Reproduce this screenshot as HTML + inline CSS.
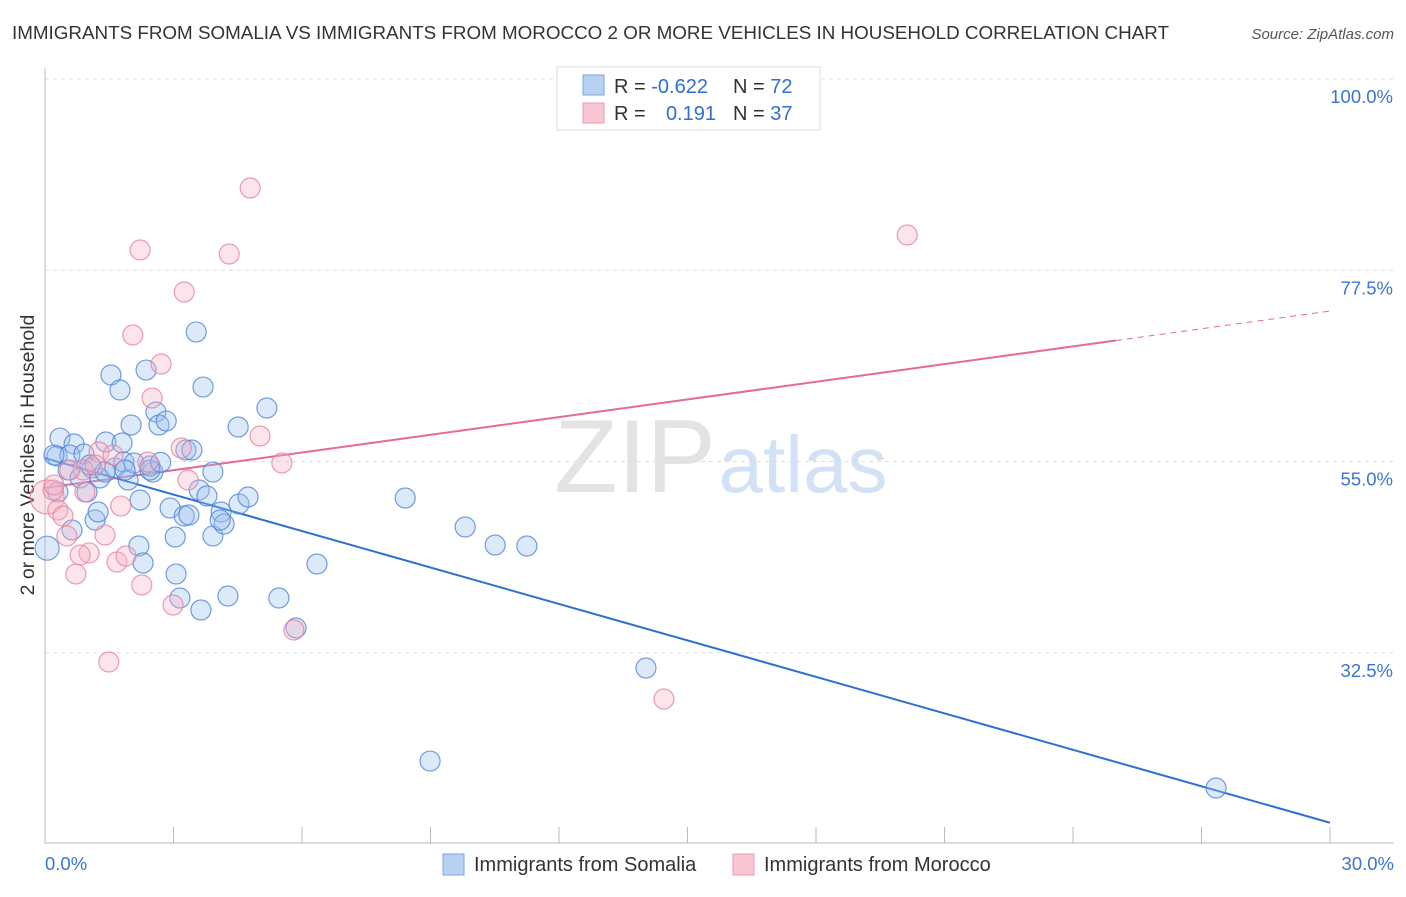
<!DOCTYPE html>
<html><head><meta charset="utf-8"><style>
body{margin:0;background:#fff;font-family:"Liberation Sans",sans-serif;}
svg text{font-family:"Liberation Sans",sans-serif;}
</style></head><body>
<svg id="chart" width="1406" height="892" viewBox="0 0 1406 892">
<text x="12" y="39" font-size="18" fill="#333" textLength="1157" lengthAdjust="spacingAndGlyphs">IMMIGRANTS FROM SOMALIA VS IMMIGRANTS FROM MOROCCO 2 OR MORE VEHICLES IN HOUSEHOLD CORRELATION CHART</text>
<text x="1394" y="39" font-size="15" fill="#555" font-style="italic" text-anchor="end">Source: ZipAtlas.com</text>
<text x="0" y="0" transform="translate(34,455) rotate(-90)" font-size="19.5" fill="#333" text-anchor="middle">2 or more Vehicles in Household</text>
<g><text x="635" y="492" font-size="104" fill="#ddd" font-family="Liberation Serif" text-anchor="middle" opacity="0.8">ZIP</text><text x="803" y="492" font-size="80" fill="#c9daf2" text-anchor="middle" opacity="0.8">atlas</text></g>
<g id="grid"></g><g id="axes"></g><g id="trends"></g><g id="points"></g>
<g>
<rect x="557" y="67" width="263" height="63" fill="#fff" stroke="#ddd"/>
<rect x="583" y="75" width="21" height="20" fill="#b8d1f3" stroke="#7aa5e0"/>
<rect x="583" y="103" width="21" height="20" fill="#f9c6d4" stroke="#ee9ab2"/>
<text x="614" y="93" font-size="20" fill="#333">R = <tspan fill="#2f6fd0">-0.622</tspan></text>
<text x="733" y="93" font-size="20" fill="#333">N = <tspan fill="#2f6fd0">72</tspan></text>
<text x="614" y="120" font-size="20" fill="#333">R = </text><text x="716" y="120" font-size="20" fill="#2f6fd0" text-anchor="end">0.191</text>
<text x="733" y="120" font-size="20" fill="#333">N = <tspan fill="#2f6fd0">37</tspan></text>
</g>
<g>
<rect x="443" y="854" width="21" height="21" fill="#b8d1f3" stroke="#7aa5e0"/>
<text x="474" y="871" font-size="20" fill="#333">Immigrants from Somalia</text>
<rect x="733" y="854" width="21" height="21" fill="#f9c6d4" stroke="#ee9ab2"/>
<text x="764" y="871" font-size="20" fill="#333">Immigrants from Morocco</text>
</g>
</svg>
<script>
const xTicks=[0,3,6,9,12,15,18,21,24,27,30];
const yTicks=[100,77.5,55,32.5];
const yTickLabels=["100.0%","77.5%","55.0%","32.5%"];
const xTickLabels=["0.0%","30.0%"];
const somaliaX=[0.05,0.28,0.35,0.68,0.54,0.58,0.91,0.82,0.98,1.10,1.17,1.24,1.28,1.42,1.54,1.63,1.75,1.80,1.84,1.94,2.01,2.08,2.22,2.19,2.29,2.36,2.52,2.45,2.59,2.66,2.83,2.92,3.04,3.06,3.15,3.25,3.29,3.36,3.43,3.53,3.60,3.64,3.69,3.78,3.92,3.92,4.11,4.18,4.27,4.51,4.53,4.74,5.18,5.46,5.86,6.35,8.41,8.99,9.81,10.51,11.25,14.03,27.34,0.21,0.63,0.30,1.40,1.05,1.87,2.45,4.09,2.70];
const somaliaY=[44.8,55.65,57.76,57.06,54.0,55.76,55.88,53.06,51.41,54.24,48.12,49.06,53.06,57.29,65.18,54.24,63.41,57.18,54.94,52.82,59.29,54.82,50.47,45.06,43.06,65.76,53.76,54.47,60.82,59.29,59.76,49.53,46.12,41.76,38.94,48.59,56.35,48.71,56.35,70.24,51.65,37.53,63.76,50.94,46.24,53.76,49.06,47.65,39.18,59.06,50.0,50.82,61.29,38.94,35.41,42.94,50.71,19.76,47.29,45.18,45.06,30.71,16.59,55.76,46.94,51.41,53.76,54.59,54.0,54.0,48.12,54.9];
const somaliaR=[12,10,10,10,10,10,10,10,10,10,10,10,10,10,10,10,10,10,10,10,10,10,10,10,10,10,10,10,10,10,10,10,10,10,10,10,10,10,10,10,10,10,10,10,10,10,10,10,10,10,10,10,10,10,10,10,10,10,10,10,10,10,10,10,10,10,10,10,10,10,10,10];
const moroccoX=[0.05,0.19,0.30,0.42,0.51,0.72,0.89,0.93,1.03,1.26,1.40,1.49,1.59,1.68,1.77,1.89,2.05,2.22,2.26,2.40,2.50,2.71,2.99,3.18,3.25,3.34,4.30,4.79,5.02,5.53,5.81,14.45,20.13,0.21,0.58,1.17,0.82];
const moroccoY=[50.82,51.65,49.29,48.59,46.24,41.76,54.0,51.41,44.24,56.12,46.35,31.41,55.76,43.18,49.76,43.88,69.88,79.88,40.47,54.94,62.47,66.47,38.12,56.59,74.94,52.82,79.41,87.18,58.0,54.82,35.18,27.06,81.65,52.24,54.0,54.59,44.0];
const somaliaTrend=[55.4,12.5];
const moroccoTrend=[51.9,72.7];
const moroccoSolidEnd=25;
const NS="http://www.w3.org/2000/svg";
const X0=45,X1=1330,Y100=79,PXPER=8.5;
function sx(v){return X0+(v/30)*(X1-X0);}
function sy(v){return Y100+(100-v)*PXPER;}
function mk(tag,attrs,parent){const e=document.createElementNS(NS,tag);for(const k in attrs)e.setAttribute(k,attrs[k]);parent.appendChild(e);return e;}
const grid=document.getElementById('grid'),axes=document.getElementById('axes'),trends=document.getElementById('trends'),pts=document.getElementById('points');
yTicks.forEach((t,i)=>{
 const l=mk('line',{x1:X0,x2:1394,y1:sy(t),y2:sy(t),stroke:'#ddd','stroke-dasharray':'4 4'},grid);
 
 
 const tx=mk('text',{x:1393,y:sy(t)+24,'font-size':18.5,fill:'#3a74d4','text-anchor':'end'},grid);
 tx.textContent=yTickLabels[i];
 
 
});
const ax=mk('line',{x1:X0,x2:X0,y1:68,y2:843,stroke:'#bbb'},axes);


const bx=mk('line',{x1:X0,x2:1394,y1:843,y2:843,stroke:'#bbb'},axes);


xTicks.forEach(t=>{
 const l=mk('line',{x1:sx(t),x2:sx(t),y1:827,y2:843,stroke:'#bbb'},axes);
 
 
});
const xl0=mk('text',{x:45,y:870,'font-size':18.5,fill:'#3a74d4'},axes);xl0.textContent=xTickLabels[0];


const xl1=mk('text',{x:1394,y:870,'font-size':18.5,fill:'#3a74d4','text-anchor':'end'},axes);xl1.textContent=xTickLabels[1];


function drawPts(xs,ys,fill,stroke,name,rs){
 xs.forEach((x,i)=>{
  const c=mk('circle',{cx:sx(x),cy:sy(ys[i]),r:rs?rs[i]:10,fill:fill,'fill-opacity':0.35,stroke:stroke,'stroke-opacity':0.8,'stroke-width':1.2},pts);
  
  
 });
}
drawPts(somaliaX,somaliaY,'#9cc0ee','#4f86d8','point-somalia',somaliaR);
const mR=moroccoX.map((_,i)=>i===0?17:10);
drawPts(moroccoX,moroccoY,'#f6b3c6','#e8829f','point-morocco',mR);
const bt=mk('line',{x1:sx(0),y1:sy(somaliaTrend[0]),x2:sx(30),y2:sy(somaliaTrend[1]),stroke:'#2f6fd0','stroke-width':2},trends);


const mAt=x=>moroccoTrend[0]+(moroccoTrend[1]-moroccoTrend[0])*x/30;
const pt=mk('line',{x1:sx(0),y1:sy(mAt(0)),x2:sx(moroccoSolidEnd),y2:sy(mAt(moroccoSolidEnd)),stroke:'#e56b93','stroke-width':2},trends);


const pd=mk('line',{x1:sx(moroccoSolidEnd),y1:sy(mAt(moroccoSolidEnd)),x2:sx(30),y2:sy(mAt(30)),stroke:'#e56b93','stroke-width':1,'stroke-dasharray':'6 5'},trends);


</script>
</body></html>
